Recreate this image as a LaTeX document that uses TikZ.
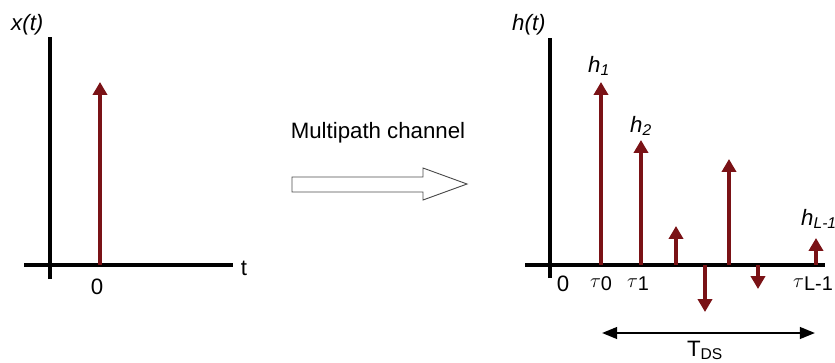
\documentclass[tikz,border=0pt]{standalone}
\usepackage{fontspec}
\setmainfont{Liberation Sans}
\usetikzlibrary{arrows.meta}
\definecolor{pulsered}{RGB}{122,18,22}
\newcommand{\tauidx}[1]{$\tau$\raisebox{-3pt}{#1}}
\begin{document}
\begin{tikzpicture}[x=0.03cm,y=-0.03cm,
    axis/.style={line width=3.4pt,black},
    pulse/.style={line width=3.5pt,pulsered,-{Triangle[width=12pt,length=11pt]}},
    txt/.style={font=\fontsize{19}{22}\selectfont,inner sep=0pt},
    small/.style={font=\fontsize{17}{20}\selectfont,inner sep=0pt}]
    \useasboundingbox (0,0) rectangle (835,363);
    \clip (0,0) rectangle (835,363);

    % Input: a single impulse at t=0
    \coordinate (xbot) at (50,279);
    \coordinate (xtop) at (50,37);
    \coordinate (xleft) at (24,265);
    \coordinate (xright) at (233,265);
    \draw[axis] (xbot) -- (xtop);
    \draw[axis] (xleft) -- (xright);
    \coordinate (xbase) at (100,265);
    \coordinate (xtip) at (100,82);
    \draw[pulse] (xbase) -- (xtip);
    \node[txt,anchor=base west] (xlab) at (11,31) {\textit{x(t)}};
    \node[txt] (tlab) at (244,268) {t};
    \node[txt] (zeroin) at (97,287) {0};

    % Channel
    \node[txt] (chan) at (378,133) {Multipath channel};
    \draw[line width=0.8pt,black!70] (292,177) -- (423,177) -- (423,168) -- (467,184)
        -- (423,200) -- (423,192) -- (292,192) -- cycle;

    % Output: impulse response h(t)
    \coordinate (hbot) at (550,278);
    \coordinate (htop) at (550,38);
    \coordinate (hleft) at (525,265);
    \coordinate (hright) at (825,265);
    \draw[axis] (hbot) -- (htop);
    \draw[axis] (hleft) -- (hright);
    \foreach \px/\tip/\nm in {601/82/a,641/140/b,676/226/c,705/312/d,729/159/e,758/289/f,816/238/g}{
        \coordinate (base\nm) at (\px,265);
        \coordinate (tip\nm) at (\px,\tip);
        \draw[pulse] (base\nm) -- (tip\nm);
    }
    \node[txt,anchor=base west] (hlab) at (512,31) {\textit{h(t)}};
    \node[txt,anchor=base west] (hone) at (588,72) {\textit{h}\textsubscript{\textit{1}}};
    \node[txt,anchor=base west] (htwo) at (630,132) {\textit{h}\textsubscript{\textit{2}}};
    \node[txt,anchor=base west] (hlast) at (801,225) {\textit{h}\textsubscript{\textit{L-1}}};
    \node[txt] (zeroout) at (563,284) {0};
    \node[small] (tau0) at (601,284) {\tauidx{0}};
    \node[small] (tau1) at (638,284) {\tauidx{1}};
    \node[small] (taulast) at (813,284) {\tauidx{L-1}};

    % Delay spread
    \coordinate (dsl) at (602,333);
    \coordinate (dsr) at (815,333);
    \draw[line width=2pt,{Triangle[width=10pt,length=13pt]}-{Triangle[width=10pt,length=13pt]}] (dsl) -- (dsr);
    \node[txt,anchor=base] (tds) at (705,356) {T\textsubscript{DS}};
\end{tikzpicture}
\end{document}
